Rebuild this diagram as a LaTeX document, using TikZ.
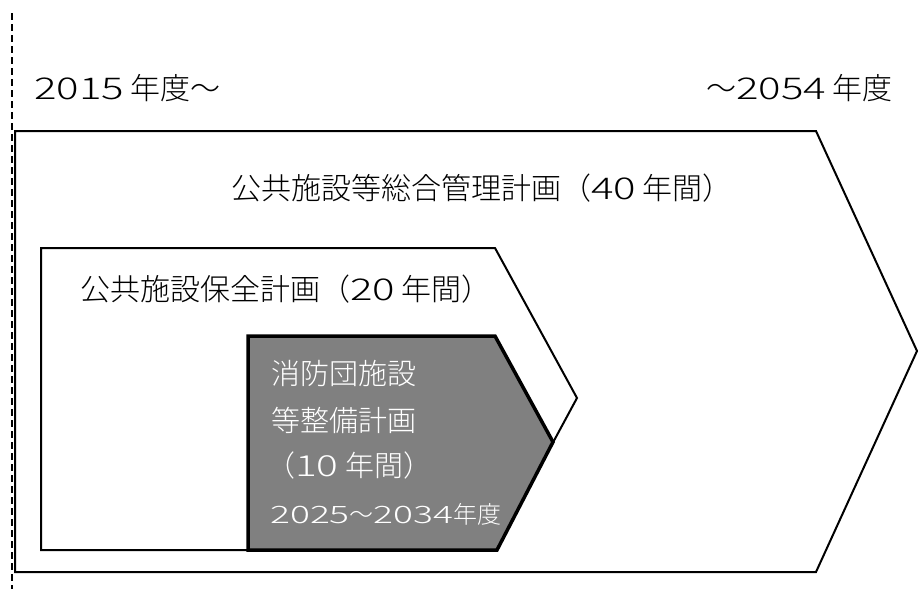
\documentclass[tikz,border=0pt]{standalone}
\usepackage{fontspec}
\setmainfont{Noto Sans CJK JP}[UprightFont={* Light}]
\newfontfamily\digfont{Noto Sans CJK JP}[UprightFont={* Light},FakeStretch=1.4]
\newfontfamily\digwfont{Noto Sans CJK JP}[UprightFont={* Light},FakeStretch=1.55]
\newcommand{\dg}[1]{{\digfont #1}}
\newcommand{\dgw}[1]{{\digwfont #1}}
\begin{document}
\begin{tikzpicture}[x=1pt,y=-1pt,
  frame/.style={draw=black,line width=2pt,line join=miter},
  darkbox/.style={draw=black,fill=gray0,line width=3.5pt,line join=miter},
  lbl/.style={anchor=west,inner sep=0pt,font=\fontsize{30}{32}\selectfont},
  wlbl/.style={lbl,text=white,font=\fontsize{29}{32}\selectfont}]
\definecolor{gray0}{RGB}{128,128,128}
\useasboundingbox (0,0) rectangle (919,589);
% outer plan
\draw[frame] (15,131) -- (816,131) -- (917,351) -- (816,572) -- (15,572) -- cycle;
% middle plan
\draw[frame,fill=white] (41,248) -- (495,248) -- (577,398) -- (495,550) -- (41,550) -- cycle;
% inner plan
\draw[darkbox] (248,336) -- (495,336) -- (553,442) -- (497,550) -- (248,550) -- cycle;
% dashed time line
\coordinate (dtop) at (12,13);
\coordinate (dbot) at (12,589);
\draw[line width=1.5pt,dash pattern=on 7pt off 4pt] (dtop) -- (dbot);
% labels
\node[lbl] (start) at (34,88) {\dg{2015} 年度～};
\node[lbl,anchor=east] (end) at (893,88) {～\dg{2054} 年度};
\node[lbl] (outer) at (231,188) {公共施設等総合管理計画（\dg{40} 年間）};
\node[lbl] (mid) at (80,289) {公共施設保全計画（\dg{20} 年間）};
\node[wlbl] (in1) at (271,373) {消防団施設};
\node[wlbl] (in2) at (271,420) {等整備計画};
\node[wlbl] (in3) at (266,465) {（\dg{10} 年間）};
\node[wlbl,font=\fontsize{24}{26}\selectfont] (in4) at (270,514) {\dgw{2025}～\dgw{2034}年度};
\end{tikzpicture}
\end{document}
